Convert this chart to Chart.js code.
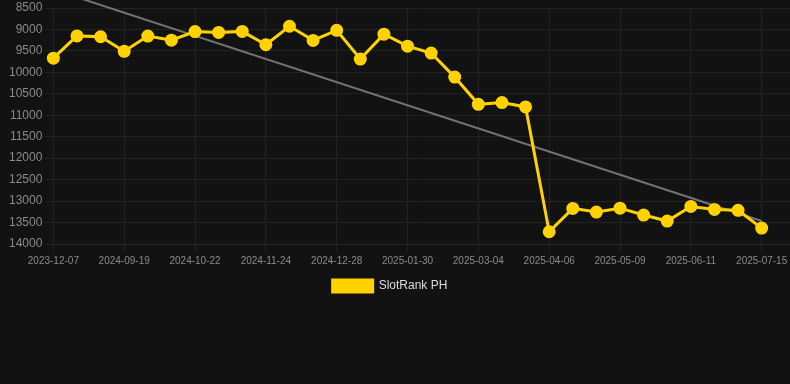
<!DOCTYPE html>
<html>
<head>
<meta charset="utf-8">
<script src="https://cdn.jsdelivr.net/npm/chart.js@4"></script>
<style>
    html, body { margin: 0; padding: 0; background: #121212; }
    .chart-box { width: 790px; height: 302px; position: relative; }
</style>
</head>
<body>
<div class="chart-box"><canvas id="rankChart"></canvas></div>
<script>
// ================= Data =================
const dates = [
    '2023-12-07', '2024-08-28', '2024-09-08', '2024-09-19', '2024-09-30', '2024-10-11',
    '2024-10-22', '2024-11-02', '2024-11-13', '2024-11-24', '2024-12-05', '2024-12-16',
    '2024-12-28', '2025-01-08', '2025-01-19', '2025-01-30', '2025-02-10', '2025-02-21',
    '2025-03-04', '2025-03-15', '2025-03-26', '2025-04-06', '2025-04-17', '2025-04-28',
    '2025-05-09', '2025-05-20', '2025-05-31', '2025-06-11', '2025-06-22', '2025-07-03',
    '2025-07-15'
];

const rankValues = [
    9670, 9150, 9170, 9510, 9155, 9250,
    9050, 9070, 9045, 9355, 8925, 9255,
    9020, 9690, 9110, 9390, 9550, 10110,
    10745, 10705, 10805, 13715, 13170, 13255,
    13165, 13325, 13465, 13125, 13195, 13215,
    13630
];

// trend line end points (first and last date)
const trendStart = 8070;
const trendEnd = 13465;

const yTicks = [8500, 9000, 9500, 10000, 10500, 11000, 11500, 12000, 12500, 13000, 13500, 14000];

(function () {
    const canvas = document.getElementById('rankChart');
    const font = { family: "'Liberation Sans', Arial, sans-serif" };

    const rankPoints = rankValues.map((v, i) => ({ x: i, y: v }));
    const trendPoints = [
        { x: 0, y: trendStart },
        { x: dates.length - 1, y: trendEnd }
    ];

    // nudge the legend a little left, like the original
    const legendShift = {
        id: 'legendShift',
        afterLayout(chart) {
            if (!chart.legend) return;
            chart.legend.left -= 8;
            chart.legend.right -= 8;
        }
    };

    new Chart(canvas, {
        type: 'line',
        data: {
            datasets: [
                {
                    label: 'SlotRank PH',
                    data: rankPoints,
                    borderColor: '#FFD200',
                    backgroundColor: '#FFD200',
                    borderWidth: 3,
                    pointRadius: 5,
                    pointHoverRadius: 6,
                    pointBackgroundColor: '#FFD200',
                    pointBorderColor: '#FFD200',
                    tension: 0,
                    clip: false,
                    order: 1
                },
                {
                    label: 'trend',
                    data: trendPoints,
                    borderColor: '#737373',
                    borderWidth: 2,
                    pointRadius: 0,
                    fill: false,
                    clip: false,
                    order: 2
                }
            ]
        },
        options: {
            responsive: true,
            maintainAspectRatio: false,
            animation: false,
            layout: { autoPadding: false, padding: { left: 6, right: 0, top: 8, bottom: 0 } },
            plugins: {
                legend: {
                    position: 'bottom',
                    labels: {
                        color: '#dddddd',
                        font: { ...font, size: 12 },
                        boxWidth: 40,
                        boxHeight: 12,
                        filter: item => item.text !== 'trend'
                    }
                },
                tooltip: { enabled: false }
            },
            scales: {
                x: {
                    type: 'linear',
                    min: 0,
                    max: 31.2,
                    grid: { color: '#222222', tickLength: 8 },
                    border: { color: '#262626' },
                    afterFit: axis => { axis.paddingRight = 0; },
                    ticks: {
                        stepSize: 3,
                        includeBounds: false,
                        autoSkip: false,
                        maxRotation: 0,
                        color: '#8a8a8a',
                        font: { ...font, size: 10 },
                        callback: value => dates[value] || ''
                    }
                },
                y: {
                    reverse: true,
                    min: yTicks[0],
                    max: yTicks[yTicks.length - 1],
                    grid: { color: '#222222', tickLength: 8 },
                    border: { display: false },
                    afterFit: axis => { axis.paddingTop = 0; },
                    afterBuildTicks: axis => { axis.ticks = yTicks.map(v => ({ value: v })); },
                    ticks: {
                        color: '#8a8a8a',
                        font: { ...font, size: 12 },
                        callback: value => String(value)
                    }
                }
            }
        },
        plugins: [legendShift]
    });
})();
</script>
</body>
</html>
